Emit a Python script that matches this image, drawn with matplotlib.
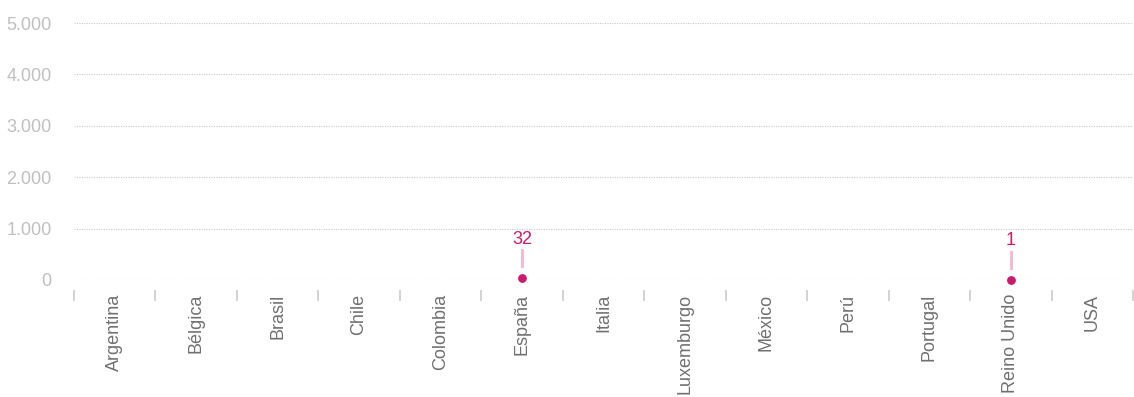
import matplotlib
matplotlib.use("Agg")
import matplotlib.pyplot as plt
import numpy as np

# datos
paises = ["Argentina", "Bélgica", "Brasil", "Chile", "Colombia", "España",
          "Italia", "Luxemburgo", "México", "Perú", "Portugal", "Reino Unido", "USA"]
valores = [None, None, None, None, None, 32, None, None, None, None, None, 1, None]
y_ticks = [0, 1000, 2000, 3000, 4000, 5000]
y_labels = ["0", "1.000", "2.000", "3.000", "4.000", "5.000"]

MAGENTA = "#cc1a6e"
ROSA = "#f2bcd6"

plt.rcParams["font.family"] = ["Liberation Sans", "DejaVu Sans"]

fig = plt.figure(figsize=(11.34, 3.97), dpi=100)
ax = fig.add_axes([74 / 1134, (397 - 280) / 397, (1133 - 74) / 1134, (280 - 23) / 397])

for s in ax.spines.values():
    s.set_visible(False)
ax.spines["bottom"].set_position(("outward", 7))

x = np.arange(len(paises))
ax.set_xlim(-0.5, len(paises) - 0.5)
ax.set_ylim(0, 5000)

# rejilla punteada
for v in y_ticks:
    ax.axhline(v, color="#c8c8c8", lw=0.8, ls=(0, (1, 1.2)), zorder=1)

inv = fig.transFigure.inverted()
for xi, v in zip(x, valores):
    if v is None:
        continue
    ax.scatter([xi], [v], s=40, color=MAGENTA, zorder=4, clip_on=False, lw=0)
    ax.annotate(str(v), xy=(xi, v), xytext=(0, 22), textcoords="offset points",
                ha="center", va="bottom", fontsize=13, color=MAGENTA)
    # conector
    px, py = ax.transData.transform((xi, v))
    p1 = inv.transform((px, py + 12))
    p2 = inv.transform((px, py + 28))
    fig.add_artist(plt.Line2D([p1[0], p2[0]], [p1[1], p2[1]], color=ROSA, lw=2.2))

ax.set_yticks(y_ticks)
ax.set_yticklabels(y_labels, fontsize=13, color="#c0c0c0")
ax.tick_params(axis="y", length=0, pad=16)

ax.set_xticks(x)
ax.set_xticklabels(paises, rotation=90, fontsize=13, color="#707070", va="top")
ax.set_xticks(np.arange(len(paises) + 1) - 0.5, minor=True)
ax.tick_params(axis="x", which="major", length=0, pad=3)
ax.tick_params(axis="x", which="minor", length=8, color="#cccccc", width=1.2,
               direction="out", pad=0)

fig.savefig("out.png", dpi=100)
